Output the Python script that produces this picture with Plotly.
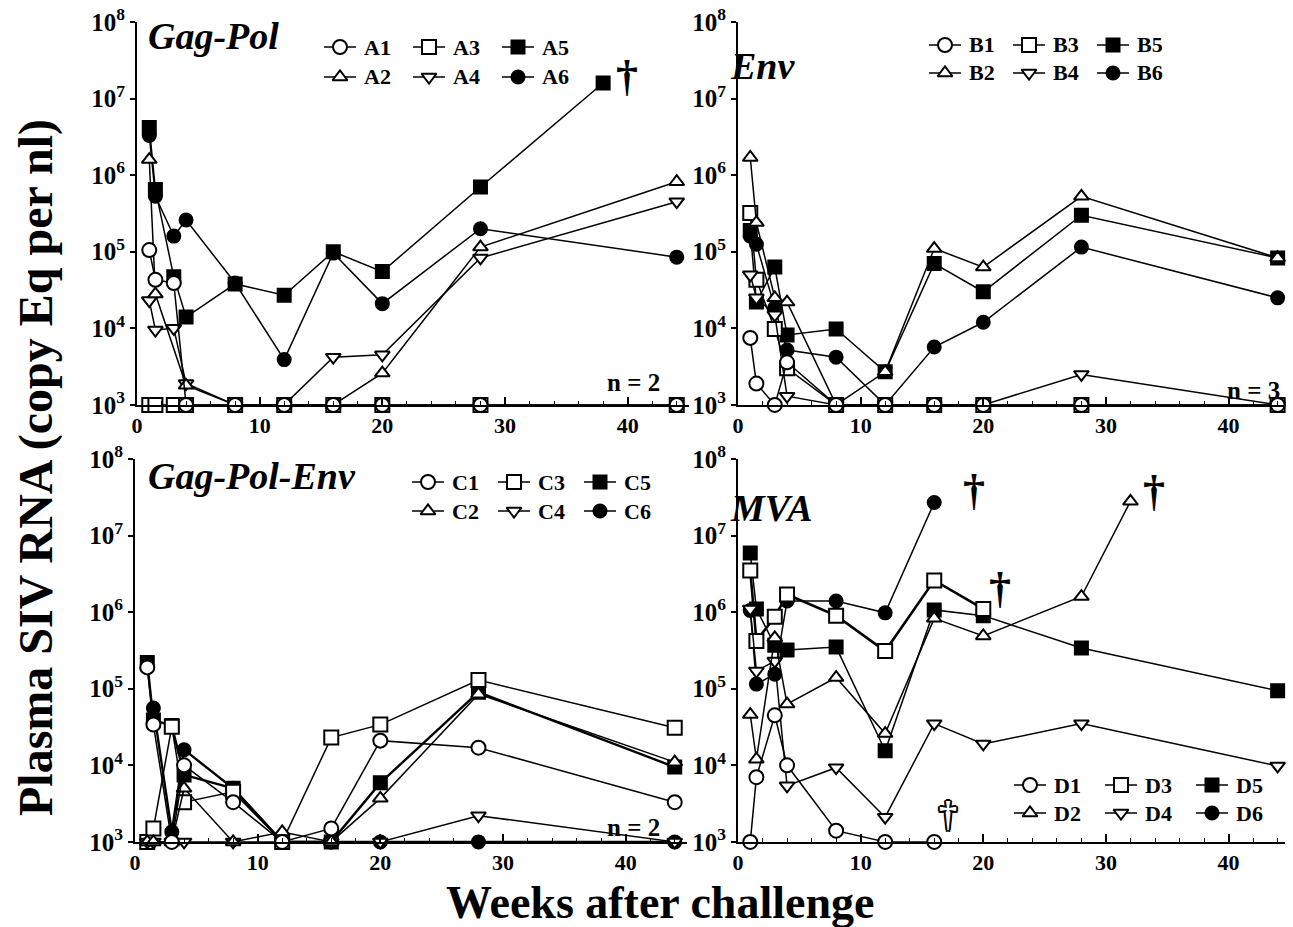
import numpy as np
import plotly.graph_objects as go

W, H = 1293, 927
SERIF = "Liberation Serif"

# ---------------- data: weeks after challenge / plasma SIV RNA ----------------
A1_weeks = [1, 1.5, 3, 4, 8, 12, 16, 20, 28, 44]
A1_vals = [1.05e5, 4.3e4, 3.9e4, 1e3, 1e3, 1e3, 1e3, 1e3, 1e3, 1e3]
A2_weeks = [1, 1.5, 4, 8, 12, 16, 20, 28, 44]
A2_vals = [1.6e6, 2.8e4, 1.8e3, 1e3, 1e3, 1e3, 2.6e3, 1.15e5, 8.2e5]
A3_weeks = [1, 1.5, 3, 4, 8, 12, 16, 20, 28, 44]
A3_vals = [1e3, 1e3, 1e3, 1e3, 1e3, 1e3, 1e3, 1e3, 1e3, 1e3]
A4_weeks = [1, 1.5, 3, 4, 8, 12, 16, 20, 28, 44]
A4_vals = [2.3e4, 9.5e3, 1.0e4, 1.9e3, 1e3, 1e3, 4.2e3, 4.5e3, 8.3e4, 4.5e5]
A5_weeks = [1, 1.5, 3, 4, 8, 12, 16, 20, 28, 38]
A5_vals = [4.2e6, 6.5e5, 4.7e4, 1.4e4, 3.8e4, 2.7e4, 1.0e5, 5.5e4, 7.0e5, 1.6e7]
A6_weeks = [1, 1.5, 3, 4, 8, 12, 16, 20, 28, 44]
A6_vals = [3.3e6, 5.3e5, 1.6e5, 2.6e5, 3.9e4, 3.9e3, 9.6e4, 2.1e4, 2.0e5, 8.5e4]

B1_weeks = [1, 1.5, 3, 4, 8, 12, 16, 20, 28, 44]
B1_vals = [7.5e3, 1.9e3, 1e3, 3.6e3, 1e3, 1e3, 1e3, 1e3, 1e3, 1e3]
B2_weeks = [1, 1.5, 3, 4, 8, 12, 16, 20, 28, 44]
B2_vals = [1.7e6, 2.4e5, 2.5e4, 2.2e4, 1e3, 2.7e3, 1.1e5, 6.3e4, 5.3e5, 8.3e4]
B3_weeks = [1, 1.5, 3, 4, 8, 12, 16, 20, 28, 44]
B3_vals = [3.2e5, 4.3e4, 9.8e3, 3.0e3, 1e3, 1e3, 1e3, 1e3, 1e3, 1e3]
B4_weeks = [1, 1.5, 3, 4, 8, 12, 16, 20, 28, 44]
B4_vals = [5.0e4, 2.5e4, 1.5e4, 1.3e3, 1e3, 1e3, 1e3, 1e3, 2.5e3, 1e3]
B5_weeks = [1, 1.5, 3, 4, 8, 12, 16, 20, 28, 44]
B5_vals = [1.9e5, 2.2e4, 6.3e4, 8.2e3, 9.8e3, 2.7e3, 7.0e4, 3.0e4, 3.0e5, 8.3e4]
B6_weeks = [1, 1.5, 3, 4, 8, 12, 16, 20, 28, 44]
B6_vals = [1.6e5, 1.25e5, 1.85e4, 5.2e3, 4.2e3, 1e3, 5.7e3, 1.2e4, 1.15e5, 2.5e4]

C1_weeks = [1, 1.5, 3, 4, 8, 12, 16, 20, 28, 44]
C1_vals = [1.9e5, 3.4e4, 1e3, 1.0e4, 3.3e3, 1e3, 1.5e3, 2.1e4, 1.7e4, 3.3e3]
C2_weeks = [1, 1.5, 3, 4, 8, 12, 16, 20, 28, 44]
C2_vals = [1e3, 1e3, 1e3, 5.0e3, 1e3, 1.35e3, 1e3, 3.7e3, 8.5e4, 1.1e4]
C3_weeks = [1, 1.5, 3, 4, 8, 12, 16, 20, 28, 44]
C3_vals = [1e3, 1.5e3, 3.2e4, 3.3e3, 4.5e3, 1e3, 2.3e4, 3.4e4, 1.3e5, 3.1e4]
C4_weeks = [1, 1.5, 3, 4, 8, 12, 16, 20, 28, 44]
C4_vals = [1e3, 1e3, 1e3, 1e3, 1e3, 1e3, 1e3, 1e3, 2.2e3, 1e3]
C5_weeks = [1, 1.5, 3, 4, 8, 12, 16, 20, 28, 44]
C5_vals = [2.2e5, 3.9e4, 3.3e4, 7.5e3, 5.0e3, 1e3, 1e3, 5.9e3, 9.0e4, 9.5e3]
C6_weeks = [1.5, 3, 4, 8, 12, 16, 20, 28, 44]
C6_vals = [5.6e4, 1.35e3, 1.6e4, 5.0e3, 1e3, 1e3, 1e3, 1e3, 1e3]

D1_weeks = [1, 1.5, 3, 4, 8, 12, 16]
D1_vals = [1e3, 7.0e3, 4.5e4, 1.0e4, 1.4e3, 1e3, 1e3]
D2_weeks = [1, 1.5, 3, 4, 8, 12, 16, 20, 28, 32]
D2_vals = [4.6e4, 1.2e4, 4.6e5, 6.3e4, 1.4e5, 2.6e4, 8.3e5, 4.9e5, 1.6e6, 2.8e7]
D3_weeks = [1, 1.5, 3, 4, 8, 12, 16, 20]
D3_vals = [3.5e6, 4.2e5, 8.7e5, 1.7e6, 9.0e5, 3.1e5, 2.6e6, 1.1e6]
D4_weeks = [1, 1.5, 3, 4, 8, 12, 16, 20, 28, 44]
D4_vals = [1.1e6, 1.7e5, 2.3e5, 5.4e3, 9.3e3, 2.1e3, 3.5e4, 1.9e4, 3.5e4, 9.8e3]
D5_weeks = [1, 1.5, 3, 4, 8, 12, 16, 20, 28, 44]
D5_vals = [5.9e6, 1.1e6, 3.7e5, 3.2e5, 3.5e5, 1.55e4, 1.07e6, 9.0e5, 3.4e5, 9.4e4]
D6_weeks = [1, 1.5, 3, 4, 8, 12, 16]
D6_vals = [1.05e6, 1.15e5, 1.55e5, 1.4e6, 1.4e6, 9.8e5, 2.7e7]

panel_titles = ["Gag-Pol", "Env", "Gag-Pol-Env", "MVA"]
panel_letters = ["A", "B", "C", "D"]
panel_notes = ["n = 2", "n = 3", "n = 2", ""]
x_ticks = [0, 10, 20, 30, 40]
y_ticks = [1e3, 1e4, 1e5, 1e6, 1e7, 1e8]
y_tick_text = ["10<sup>%d</sup>" % int(round(np.log10(v))) for v in y_ticks]

series = {
    "A1": (A1_weeks, A1_vals), "A2": (A2_weeks, A2_vals), "A3": (A3_weeks, A3_vals),
    "A4": (A4_weeks, A4_vals), "A5": (A5_weeks, A5_vals), "A6": (A6_weeks, A6_vals),
    "B1": (B1_weeks, B1_vals), "B2": (B2_weeks, B2_vals), "B3": (B3_weeks, B3_vals),
    "B4": (B4_weeks, B4_vals), "B5": (B5_weeks, B5_vals), "B6": (B6_weeks, B6_vals),
    "C1": (C1_weeks, C1_vals), "C2": (C2_weeks, C2_vals), "C3": (C3_weeks, C3_vals),
    "C4": (C4_weeks, C4_vals), "C5": (C5_weeks, C5_vals), "C6": (C6_weeks, C6_vals),
    "D1": (D1_weeks, D1_vals), "D2": (D2_weeks, D2_vals), "D3": (D3_weeks, D3_vals),
    "D4": (D4_weeks, D4_vals), "D5": (D5_weeks, D5_vals), "D6": (D6_weeks, D6_vals),
}

# ---------------- styles ----------------
SYMBOL = {1: "circle", 2: "triangle-up", 3: "square", 4: "triangle-down", 5: "square", 6: "circle"}
FILL = {1: "white", 2: "white", 3: "white", 4: "white", 5: "black", 6: "black"}
MSIZE = {1: 14, 2: 13, 3: 14, 4: 13, 5: 13, 6: 13}
DRAW_ORDER = [5, 6, 3, 4, 2, 1]
LINE_W = {"C5": 2.4, "C6": 2.4, "D3": 2.6}

# pixel layout of each panel: (x0, x1, ytop(1e8), ybottom(1e3), xmax)
panel_box = {
    "A": (137, 689, 22, 405, 45.0),
    "B": (738, 1285, 22, 405, 44.6),
    "C": (135, 687, 459, 842, 45.0),
    "D": (738, 1285, 459, 842, 44.6),
}
axis_ids = {"A": ("x", "y"), "B": ("x2", "y2"), "C": ("x3", "y3"), "D": ("x4", "y4")}
Y_LOW = 2.9985  # just below 10^3 so detection-limit points are not dropped


def fx(px):
    return px / W


def fy(py):
    return 1 - py / H


fig = go.Figure()

for L in panel_letters:
    xa, ya = axis_ids[L]
    for k in DRAW_ORDER:
        name = f"{L}{k}"
        wk, vals = series[name]
        fig.add_trace(go.Scatter(
            x=wk, y=vals, xaxis=xa, yaxis=ya, mode="lines+markers", name=name,
            showlegend=False, cliponaxis=False,
            line=dict(color="black", width=LINE_W.get(name, 1.5)),
            marker=dict(symbol=SYMBOL[k], size=MSIZE[k], color=FILL[k],
                        line=dict(color="black", width=2)),
        ))

# ---------------- axes ----------------
layout_axes = {}
for i, L in enumerate(panel_letters):
    x0, x1, yt, yb, xmax = panel_box[L]
    sfx = "" if i == 0 else str(i + 1)
    layout_axes["xaxis" + sfx] = dict(
        domain=[fx(x0), fx(x1)], range=[0, xmax], anchor="y" + sfx, automargin=False,
        showline=True, linecolor="black", linewidth=2, showgrid=False, zeroline=False,
        tickvals=x_ticks, ticks="inside", ticklen=8, tickwidth=1.5, tickcolor="black",
        minor=dict(ticks="inside", ticklen=4, tickwidth=1, dtick=2, tickcolor="black", showgrid=False),
        tickfont=dict(family=SERIF, size=22, color="black", weight="bold"),
        fixedrange=True,
    )
    layout_axes["yaxis" + sfx] = dict(
        domain=[fy(yb), fy(yt)], type="log", range=[Y_LOW, 8], anchor="x" + sfx, automargin=False,
        showline=True, linecolor="black", linewidth=2, showgrid=False, zeroline=False,
        tickvals=y_ticks, ticktext=y_tick_text, ticks="outside", ticklen=5, tickwidth=1.5,
        tickcolor="black",
        tickfont=dict(family=SERIF, size=25, color="black", weight="bold"),
        fixedrange=True,
    )
# overlay axis in pixel units for hand-drawn legends
layout_axes["xaxis5"] = dict(domain=[0, 1], range=[0, W], visible=False, anchor="y5",
                             fixedrange=True, automargin=False)
layout_axes["yaxis5"] = dict(domain=[0, 1], range=[H, 0], visible=False, anchor="x5",
                             fixedrange=True, automargin=False)

# ---------------- legends (3 columns x 2 rows per panel) ----------------
legend_pos = {  # first marker (px), column step, row step
    "A": (340, 47, 89, 30),
    "B": (945, 45, 84, 28),
    "C": (428, 482, 86, 29),
    "D": (1030, 785, 91, 28),
}
annotations = []
for L in panel_letters:
    mx0, my0, dx, dy = legend_pos[L]
    for k in range(1, 7):
        col = (k - 1) // 2
        row = (k - 1) % 2
        mx = mx0 + col * dx
        my = my0 + row * dy
        fig.add_trace(go.Scatter(
            x=[mx - 16, mx + 16], y=[my, my], xaxis="x5", yaxis="y5", mode="lines",
            showlegend=False, hoverinfo="skip", line=dict(color="black", width=1.5)))
        fig.add_trace(go.Scatter(
            x=[mx], y=[my], xaxis="x5", yaxis="y5", mode="markers", showlegend=False,
            hoverinfo="skip",
            marker=dict(symbol=SYMBOL[k], size=MSIZE[k], color=FILL[k],
                        line=dict(color="black", width=2))))
        annotations.append(dict(
            x=fx(mx + 22), y=fy(my), xref="paper", yref="paper", xanchor="left", yanchor="middle",
            text=f"<b>{L}{k}</b>", showarrow=False,
            font=dict(family=SERIF, size=22, color="black")))

# ---------------- panel titles & notes ----------------
title_pos = {"A": (146, 36), "B": (728, 66), "C": (146, 476), "D": (728, 508)}
note_pos = {"A": (633, 383), "B": (1253, 390), "C": (633, 827)}
for i, L in enumerate(panel_letters):
    tx, ty = title_pos[L]
    annotations.append(dict(
        x=fx(tx), y=fy(ty), xref="paper", yref="paper", xanchor="left", yanchor="middle",
        text=f"<b><i>{panel_titles[i]}</i></b>", showarrow=False,
        font=dict(family=SERIF, size=38, color="black")))
    if panel_notes[i]:
        nx, ny = note_pos[L]
        annotations.append(dict(
            x=fx(nx), y=fy(ny), xref="paper", yref="paper", xanchor="center", yanchor="middle",
            text=f"<b>{panel_notes[i]}</b>", showarrow=False,
            font=dict(family=SERIF, size=25, color="black")))

# ---------------- daggers (death) at last sample ----------------
daggers = [  # series, xshift, yshift, outlined
    ("A5", 24, 6, False),
    ("D6", 40, 12, False),
    ("D3", 17, 20, False),
    ("D2", 24, 10, False),
    ("D1", 14, 28, True),
]
for name, xs, ys, outlined in daggers:
    L = name[0]
    xa, ya = axis_ids[L]
    wk, vals = series[name]
    if outlined:
        fnt = dict(family=SERIF, size=36, color="white",
                   shadow="2px 0 0 #000, -2px 0 0 #000, 0 2px 0 #000, 0 -2px 0 #000, "
                          "1.5px 1.5px 0 #000, -1.5px -1.5px 0 #000, 1.5px -1.5px 0 #000, -1.5px 1.5px 0 #000")
    else:
        fnt = dict(family=SERIF, size=44, color="black")
    annotations.append(dict(
        x=wk[-1], y=float(np.log10(vals[-1])), xref=xa, yref=ya, xshift=xs, yshift=ys,
        text="<b>†</b>", showarrow=False, font=fnt))

# ---------------- global axis titles ----------------
annotations.append(dict(
    x=fx(36), y=fy(468), xref="paper", yref="paper", xanchor="center", yanchor="middle",
    text="<b>Plasma SIV RNA (copy Eq per nl)</b>", textangle=-90, showarrow=False,
    font=dict(family=SERIF, size=48, color="black")))
annotations.append(dict(
    x=fx(660), y=fy(902), xref="paper", yref="paper", xanchor="center", yanchor="middle",
    text="<b>Weeks after challenge</b>", showarrow=False,
    font=dict(family=SERIF, size=46, color="black")))

fig.update_layout(
    width=W, height=H, margin=dict(l=0, r=0, t=0, b=0, autoexpand=False),
    paper_bgcolor="white", plot_bgcolor="rgba(0,0,0,0)", showlegend=False,
    annotations=annotations, **layout_axes,
)

fig.write_html(
    "out.html",
    config={"displayModeBar": False},
    post_script="document.body.style.margin='0';document.body.style.overflow='hidden';",
)
